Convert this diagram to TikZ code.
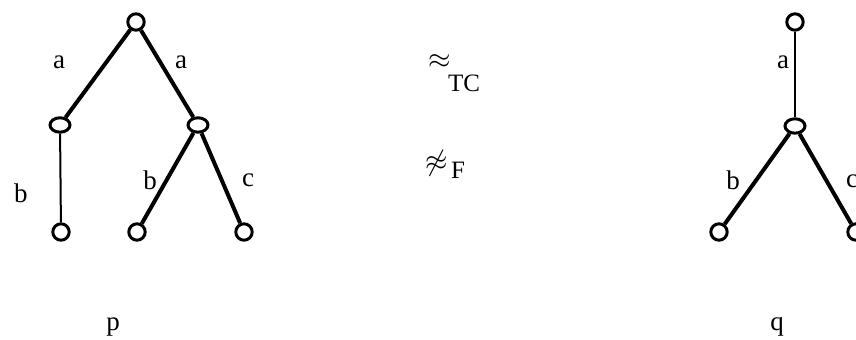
\documentclass[tikz,border=0pt]{standalone}
\usepackage{amssymb}
\usepackage{fontspec}
\setmainfont{Liberation Serif}
\usetikzlibrary{positioning,shapes.geometric}

\begin{document}
\begin{tikzpicture}[x=0.5pt, y=-0.5pt,
      vtx/.style={draw, circle, line width=1.5pt, minimum size=8.2pt, inner sep=0pt},
      inner/.style={draw, ellipse, line width=1.5pt, minimum width=10pt, minimum height=7.2pt, inner sep=0pt},
      arc/.style={line width=2pt},
      vert/.style={line width=1pt},
      lbl/.style={font=\fontsize{13.5}{15}\selectfont, inner sep=0pt}]
      \useasboundingbox (0,0) rectangle (856,340);
      % tree p
      \node[vtx] (p0) at (136,22) {};
      \node[inner] (p1) at (60,125) {};
      \node[inner] (p2) at (198,125) {};
      \node[vtx] (p11) at (61,232) {};
      \node[vtx] (p21) at (137,232) {};
      \node[vtx] (p22) at (244,232) {};
      \draw[arc] (p0) -- (p1);
      \draw[arc] (p0) -- (p2);
      \draw[vert] (p1) -- (p11);
      \draw[arc] (p2) -- (p21);
      \draw[arc] (p2) -- (p22);
      \node[lbl] (la1) at (59,62) {a};
      \node[lbl] (la2) at (181,62) {a};
      \node[lbl] (lb1) at (21,193) {b};
      \node[lbl] (lb2) at (150,180) {b};
      \node[lbl] (lc1) at (248,180) {c};
      \node[lbl] (np) at (113,327) {p};
      % relations
      \node[lbl, font=\fontsize{15}{17}\selectfont] (rel1) at (440,62) {$\approx$};
      \node[lbl, font=\fontsize{12.5}{14}\selectfont] (tc) at (464,83) {TC};
      \node[lbl, font=\fontsize{15}{17}\selectfont] (rel2) at (437,163) {$\not\approx$};
      \node[lbl, font=\fontsize{12.5}{14}\selectfont] (ff) at (458,170) {F};
      % tree q
      \node[vtx] (q0) at (795,22) {};
      \node[inner] (q1) at (795,126) {};
      \node[vtx] (q11) at (719,232) {};
      \node[vtx] (q12) at (856,232) {};
      \draw[vert] (q0) -- (q1);
      \draw[arc] (q1) -- (q11);
      \draw[arc] (q1) -- (q12);
      \node[lbl] (qa) at (783,62) {a};
      \node[lbl] (qb) at (733,180) {b};
      \node[lbl] (qc) at (852,181) {c};
      \node[lbl] (nq) at (777,327) {q};
    \end{tikzpicture}
\end{document}
